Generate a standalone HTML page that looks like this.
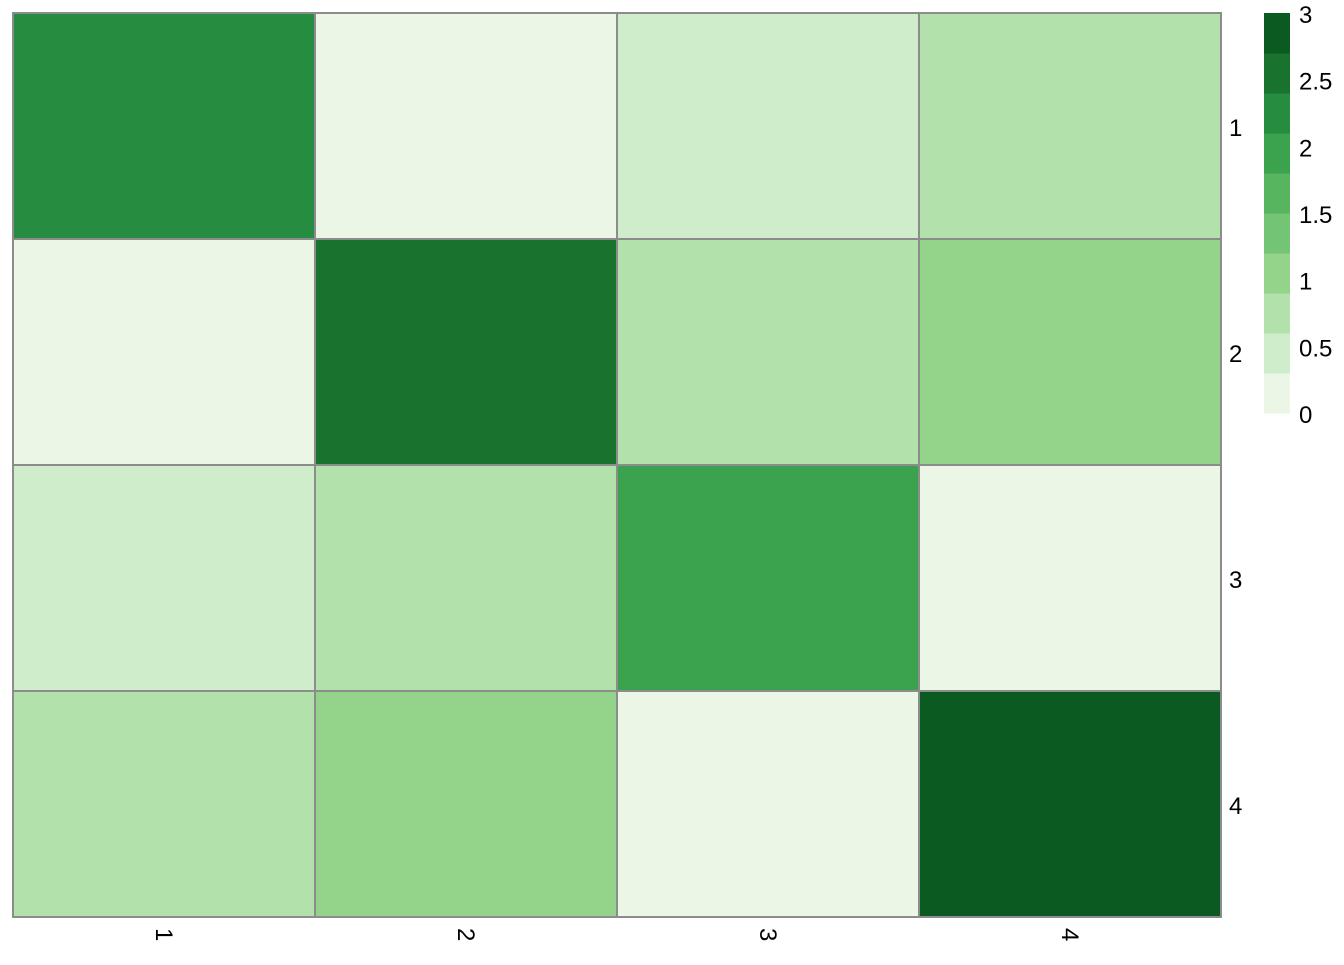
<!DOCTYPE html>
<html><head><meta charset="utf-8"><style>
body{margin:0;background:#fff;font-family:"Liberation Sans",sans-serif}
svg text{font-family:"Liberation Sans",sans-serif;font-size:24px;fill:#000}
</style></head><body>
<svg id="c" width="1344" height="960"></svg>
<script>
const rowLabels=["1","2","3","4"];
const colLabels=["1","2","3","4"];
const values=[[2.2,0,0.45,0.75],[0,2.6,0.75,1.0],[0.45,0.75,2.0,0],[0.75,1.0,0,3.0]];
const legendTicks=[0,0.5,1,1.5,2,2.5,3];
const palette=["#EBF6E6","#CFEDCB","#B3E1AB","#94D38A","#74C476","#57B45F","#3BA24E","#258C40","#19732F","#0B5A21"];
const vmin=0,vmax=3;
const svg=document.getElementById('c');const NS="http://www.w3.org/2000/svg";
function mk(t,a){const e=document.createElementNS(NS,t);for(const k in a)e.setAttribute(k,a[k]);svg.appendChild(e);return e;}
const x0=13,x1=1221,y0=13,y1=917;
const cw=(x1-x0)/colLabels.length,ch=(y1-y0)/rowLabels.length;
function col(v){let i=Math.floor((v-vmin)/(vmax-vmin)*palette.length);return palette[Math.max(0,Math.min(palette.length-1,i))];}
values.forEach((r,i)=>r.forEach((v,j)=>{
const e=mk('rect',{x:x0+j*cw,y:y0+i*ch,width:cw,height:ch,fill:col(v),stroke:'#8c8c8c','stroke-width':2});


}));
rowLabels.forEach((l,i)=>{const t=mk('text',{x:1229,y:y0+(i+0.5)*ch+10});t.textContent=l;

});
colLabels.forEach((l,j)=>{const cx=x0+(j+0.5)*cw;const t=mk('text',{x:0,y:0,transform:`translate(${cx-8},928) rotate(90)`});t.textContent=l;

});
const ly0=13,ly1=413,lx=1264,lw=26;
const bh=(ly1-ly0)/palette.length;
palette.forEach((c,k)=>{const e=mk('rect',{x:lx,y:ly1-(k+1)*bh,width:lw,height:bh+0.5,fill:c});

});
legendTicks.forEach(v=>{const y=ly1-(v-vmin)/(vmax-vmin)*(ly1-ly0);
const t=mk('text',{x:1299,y:y+10});t.textContent=v;

});
</script>
</body></html>
